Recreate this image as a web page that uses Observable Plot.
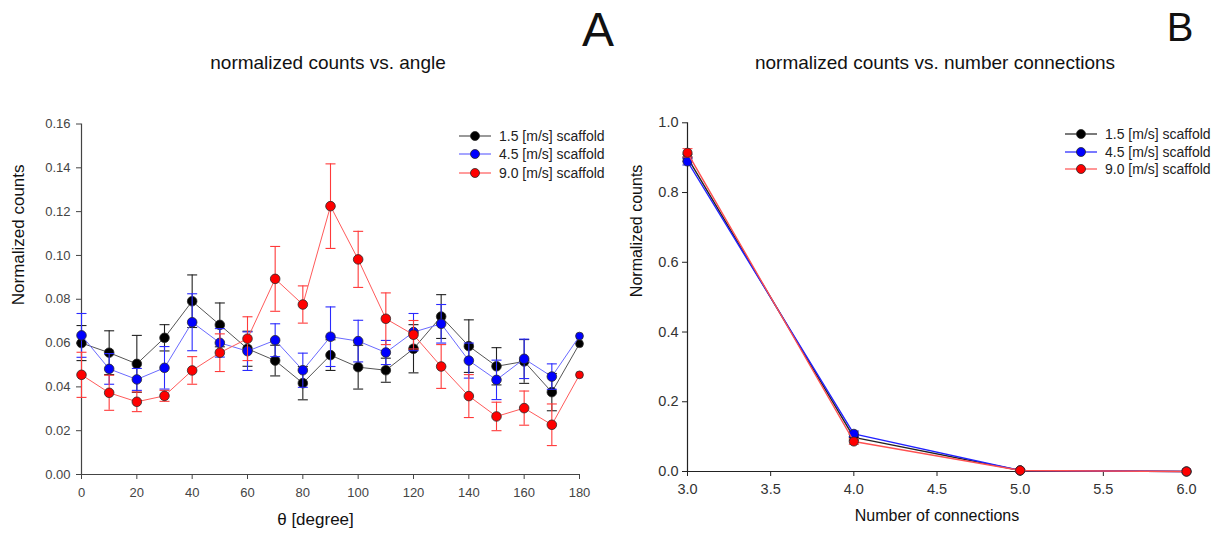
<!DOCTYPE html>
<html><head><meta charset="utf-8">
<script src="https://cdn.jsdelivr.net/npm/d3@7"></script>
<script src="https://cdn.jsdelivr.net/npm/@observablehq/plot@0.6"></script>
<style>
body{margin:0;background:#fff;font-family:"Liberation Sans",Arial,sans-serif;}
#wrap{position:relative;width:1226px;height:535px;overflow:hidden;background:#fff;}
.abs{position:absolute;white-space:nowrap;line-height:1;color:#111;}
.plot{position:absolute;top:0;}
</style></head><body><div id="wrap"></div>
<script>
// ---------- Panel A data ----------
const angles = [0,10,20,30,40,50,60,70,80,90,100,110,120,130,140,150,160,170,180];
const a15 = [0.0600,0.0556,0.0505,0.0624,0.0791,0.0683,0.0574,0.0520,0.0417,0.0545,0.0490,0.0476,0.0574,0.0721,0.0586,0.0494,0.0516,0.0376,0.0597];
const a15err = [0.008,0.010,0.013,0.006,0.012,0.010,0.008,0.007,0.0076,0.007,0.010,0.0055,0.011,0.010,0.012,0.0085,0.010,0.0085,0];
const a45 = [0.0635,0.0482,0.0434,0.0487,0.0695,0.0601,0.0563,0.0613,0.0476,0.0629,0.0609,0.0557,0.0650,0.0688,0.0520,0.0432,0.0528,0.0447,0.0632];
const a45err = [0.010,0.007,0.005,0.0097,0.013,0.0065,0.0088,0.0075,0.0078,0.0136,0.0095,0.0055,0.0085,0.0088,0.008,0.009,0.009,0.0058,0];
const a90 = [0.0455,0.0373,0.0332,0.0359,0.0475,0.0556,0.0620,0.0893,0.0776,0.1225,0.0982,0.0711,0.0638,0.0493,0.0358,0.0265,0.0303,0.0227,0.0455];
const a90err = [0.0103,0.0080,0.0045,0.0025,0.0063,0.0086,0.0100,0.0148,0.0085,0.0193,0.0128,0.0118,0.0065,0.0100,0.0098,0.0065,0.0078,0.0095,0];
const yTicksA = [0,0.02,0.04,0.06,0.08,0.10,0.12,0.14,0.16];
const xTicksA = [0,20,40,60,80,100,120,140,160,180];

// ---------- Panel B data ----------
const connections = [3,4,5,6];
const b15 = [0.900,0.098,0.003,0.000];
const b15err = [0.010,0.008,0.002,0];
const b45 = [0.889,0.108,0.003,0.000];
const b45err = [0.010,0.008,0.002,0];
const b90 = [0.914,0.086,0.003,0.000];
const b90err = [0.012,0.008,0.002,0];
const yTicksB = [0,0.2,0.4,0.6,0.8,1.0];
const xTicksB = [3,3.5,4,4.5,5,5.5,6];

const seriesNames = ["1.5 [m/s] scaffold","4.5 [m/s] scaffold","9.0 [m/s] scaffold"];
const fills = ["#000000","#0000ff","#ff0000"];
const lineColsA = ["#555555","#6a6aff","#ff5a5a"];
const errColsA = ["#222222","#2a2aff","#ff3a3a"];
const lineColsB = ["#222222","#2020ff","#ff5050"];

const cap = {draw(ctx){ ctx.moveTo(-5,0); ctx.lineTo(5,0); }};

function rows(xs, ys, es){ return xs.map((x,i)=>({x, y:ys[i], e:es[i], lo:ys[i]-es[i], hi:ys[i]+es[i]})); }

function seriesMarks(data, i, lineCol, errCol, r, rEnd, lineW){
  const eb = data.filter(d=>d.e>0);
  const noEb = data.filter(d=>!(d.e>0));
  return [
    Plot.line(data, {x:"x", y:"y", stroke:lineCol, strokeWidth:lineW}),
    Plot.ruleX(eb, {x:"x", y1:"lo", y2:"hi", stroke:errCol, strokeWidth:1.1}),
    Plot.dot(eb, {x:"x", y:"hi", symbol:cap, stroke:errCol, fill:"none", strokeWidth:1.1}),
    Plot.dot(eb, {x:"x", y:"lo", symbol:cap, stroke:errCol, fill:"none", strokeWidth:1.1}),
    Plot.dot(eb, {x:"x", y:"y", r, fill:fills[i], stroke:"#2a2a2a", strokeWidth:0.8}),
    Plot.dot(noEb, {x:"x", y:"y", r:rEnd, fill:fills[i], stroke:"#2a2a2a", strokeWidth:0.8})
  ];
}

const wrap = document.getElementById("wrap");

// ---------- Panel A ----------
const dataA = [rows(angles,a15,a15err), rows(angles,a45,a45err), rows(angles,a90,a90err)];
const plotA = Plot.plot({
  width:613, height:535,
  marginLeft:81, marginRight:34, marginTop:123.5, marginBottom:61,
  style:{fontFamily:'"Liberation Sans",Arial,sans-serif', background:"transparent"},
  x:{domain:[0,180]},
  y:{domain:[0,0.16]},
  marks:[
    Plot.axisY({ticks:yTicksA, tickFormat:d3.format(".2f"), tickSize:5, tickPadding:6, fontSize:13, stroke:"#444", fill:"#444", label:null}),
    Plot.axisX({ticks:xTicksA, tickFormat:d3.format("d"), tickSize:5, tickPadding:8, fontSize:13, stroke:"#444", fill:"#444", label:null}),
    Plot.ruleX([0], {stroke:"#444", strokeWidth:1.2}),
    Plot.ruleY([0], {stroke:"#444", strokeWidth:1.2}),
    ...dataA.flatMap((d,i)=>seriesMarks(d,i,lineColsA[i],errColsA[i],4.8,3.9,1)),
    Plot.text(["Normalized counts"], {frameAnchor:"left", dx:-62.5, dy:6, rotate:-90, fontSize:17, fill:"#111"}),
    Plot.text(["θ [degree]"], {frameAnchor:"bottom", dx:-15, dy:50, fontSize:17, fill:"#111"})
  ]
});
plotA.classList.add("plot"); plotA.style.left = "0px";
wrap.appendChild(plotA);

// ---------- Panel B ----------
const dataB = [rows(connections,b15,b15err), rows(connections,b45,b45err), rows(connections,b90,b90err)];
const plotB = Plot.plot({
  width:613, height:535,
  marginLeft:74, marginRight:40, marginTop:122.3, marginBottom:64,
  style:{fontFamily:'"Liberation Sans",Arial,sans-serif', background:"transparent"},
  x:{domain:[3,6]},
  y:{domain:[0,1]},
  marks:[
    Plot.axisY({ticks:yTicksB, tickFormat:d3.format(".1f"), tickSize:5, tickPadding:4, fontSize:14.5, stroke:"#222", fill:"#333", label:null}),
    Plot.axisX({ticks:xTicksB, tickFormat:d3.format(".1f"), tickSize:5, tickPadding:7, fontSize:14.5, stroke:"#222", fill:"#333", label:null}),
    Plot.ruleX([3], {stroke:"#222", strokeWidth:1.2}),
    Plot.ruleY([0], {stroke:"#222", strokeWidth:1.2}),
    ...dataB.flatMap((d,i)=>seriesMarks(d,i,lineColsB[i],lineColsB[i],4.6,4.6,1.4)),
    Plot.text(["Normalized counts"], {frameAnchor:"left", dx:-51, rotate:-90, fontSize:16, fill:"#111"}),
    Plot.text(["Number of connections"], {frameAnchor:"bottom", dx:0, dy:49, fontSize:16, fill:"#111"})
  ]
});
plotB.classList.add("plot"); plotB.style.left = "613px";
wrap.appendChild(plotB);

// ---------- titles & panel letters ----------
function addText(txt, cx, cy, size, extra){
  const d = document.createElement("div");
  d.className = "abs"; d.textContent = txt;
  d.style.left = cx+"px"; d.style.top = cy+"px"; d.style.fontSize = size+"px";
  d.style.transform = "translate(-50%,-50%)";
  if (extra) Object.assign(d.style, extra);
  wrap.appendChild(d);
}
addText("normalized counts vs. angle", 328, 62, 19);
addText("normalized counts vs. number connections", 935, 62, 19);
addText("A", 598, 30, 48);
addText("B", 1180, 27, 40);

// ---------- legends ----------
function addLegend(x0, ys, lineCols){
  seriesNames.forEach((name,i)=>{
    const row = document.createElement("div");
    row.className = "abs";
    row.style.left = x0+"px"; row.style.top = (ys[i]-7)+"px";
    row.style.height = "14px"; row.style.display = "flex"; row.style.alignItems = "center";
    row.innerHTML = `<svg width="40" height="14" style="display:block"><line x1="0" x2="32" y1="7" y2="7" stroke="${lineCols[i]}" stroke-width="1.2"/><circle cx="16" cy="7" r="4.5" fill="${fills[i]}" stroke="#2a2a2a" stroke-width="0.8"/></svg><span style="font-size:14px;color:#222">${name}</span>`;
    wrap.appendChild(row);
  });
}
addLegend(459, [135.7,154.3,173], lineColsA);
addLegend(1065, [133.7,151.7,169], lineColsB);
</script>
</body></html>
